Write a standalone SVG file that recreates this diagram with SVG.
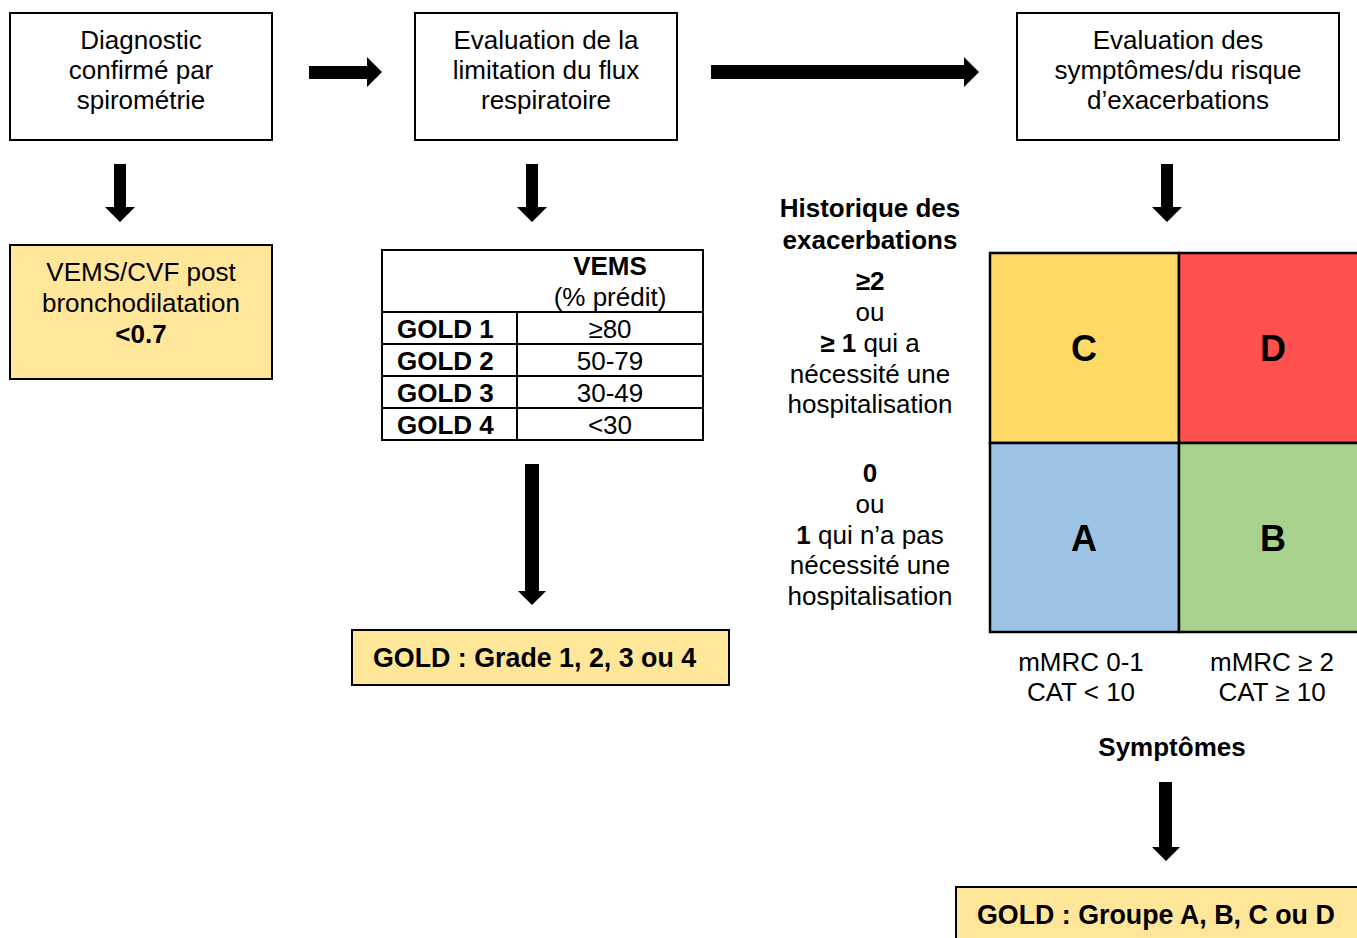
<svg xmlns="http://www.w3.org/2000/svg" width="1357" height="938" viewBox="0 0 1357 938">
<style>
text{font-family:"Liberation Sans",Arial,sans-serif;font-size:26px;fill:#000}
.c{text-anchor:middle}
.b{font-weight:bold}
.w{font-size:26.8px}
.box{fill:#fff;stroke:#000;stroke-width:2}
.ybox{fill:#FFE699;stroke:#000;stroke-width:2}
.cell{stroke:#000;stroke-width:2.5}
.big{font-size:36px;font-weight:bold;text-anchor:middle}
.arr{fill:#000}
</style>
<rect width="1357" height="938" fill="#fff"/>

<g id="connectors">
<polygon class="arr" points="309,66 367,66 367,57 382,72 367,87 367,79 309,79"/>
<polygon class="arr" points="711,65 964,65 964,57 979,72 964,87 964,79 711,79"/>
<polygon class="arr" points="114,164 126,164 126,207 135,207 120,222 105,207 114,207"/>
<polygon class="arr" points="526,164 538,164 538,207 547,207 532,222 517,207 526,207"/>
<polygon class="arr" points="1161,164 1173,164 1173,207 1182,207 1167,222 1152,207 1161,207"/>
<polygon class="arr" points="525,464 539,464 539,591 546,591 532,605 518,591 525,591"/>
<polygon class="arr" points="1159,782 1172,782 1172,847 1180,847 1166,861 1152,847 1159,847"/>
</g>

<g id="n-diagnostic">
<rect class="box" x="10" y="13" width="262" height="127"/>
<text class="c" x="141" y="49">Diagnostic</text>
<text class="c" x="141" y="79">confirmé par</text>
<text class="c" x="141" y="109">spirométrie</text>
</g>

<g id="n-limitation">
<rect class="box" x="415" y="13" width="262" height="127"/>
<text class="c" x="546" y="49">Evaluation de la</text>
<text class="c" x="546" y="79">limitation du flux</text>
<text class="c" x="546" y="109">respiratoire</text>
</g>

<g id="n-symptomes">
<rect class="box" x="1017" y="13" width="322" height="127"/>
<text class="c" x="1178" y="49">Evaluation des</text>
<text class="c" x="1178" y="79">symptômes/du risque</text>
<text class="c" x="1178" y="109">d’exacerbations</text>
</g>

<g id="n-vems-cvf">
<rect class="ybox" x="10" y="245" width="262" height="134"/>
<text class="c" x="141" y="281">VEMS/CVF post</text>
<text class="c" x="141" y="312">bronchodilatation</text>
<text class="c b" x="141" y="343">&lt;0.7</text>
</g>

<g id="n-table">
<rect x="382" y="250" width="321" height="190" fill="#fff" stroke="#000" stroke-width="2"/>
<g stroke="#000" stroke-width="2">
<line x1="382" y1="312" x2="703" y2="312"/>
<line x1="382" y1="344" x2="703" y2="344"/>
<line x1="382" y1="376" x2="703" y2="376"/>
<line x1="382" y1="408" x2="703" y2="408"/>
<line x1="517" y1="312" x2="517" y2="440"/>
</g>
<text class="c b" x="610" y="275">VEMS</text>
<text class="c" x="610" y="306">(% prédit)</text>
<text class="b" x="397" y="338">GOLD 1</text>
<text class="b" x="397" y="370">GOLD 2</text>
<text class="b" x="397" y="402">GOLD 3</text>
<text class="b" x="397" y="434">GOLD 4</text>
<text class="c" x="610" y="338">≥80</text>
<text class="c" x="610" y="370">50-79</text>
<text class="c" x="610" y="402">30-49</text>
<text class="c" x="610" y="434">&lt;30</text>
</g>

<g id="n-grade">
<rect class="ybox" x="352" y="630" width="377" height="55"/>
<text class="b w" x="373" y="667">GOLD : Grade 1, 2, 3 ou 4</text>
</g>

<g id="n-historique">
<text class="c b" x="870" y="217">Historique des</text>
<text class="c b" x="870" y="249">exacerbations</text>
<text class="c b" x="870" y="290">≥2</text>
<text class="c" x="870" y="321">ou</text>
<text class="c" x="870" y="352"><tspan class="b">≥ 1</tspan> qui a</text>
<text class="c" x="870" y="383">nécessité une</text>
<text class="c" x="870" y="413">hospitalisation</text>
<text class="c b" x="870" y="482">0</text>
<text class="c" x="870" y="513">ou</text>
<text class="c" x="870" y="544"><tspan class="b">1</tspan> qui n’a pas</text>
<text class="c" x="870" y="574">nécessité une</text>
<text class="c" x="870" y="605">hospitalisation</text>
</g>

<g id="n-grid">
<rect class="cell" x="990" y="253" width="189" height="190" fill="#FFD966"/>
<rect class="cell" x="1179" y="253" width="190" height="190" fill="#FF5050"/>
<rect class="cell" x="990" y="443" width="189" height="189" fill="#9DC3E6"/>
<rect class="cell" x="1179" y="443" width="190" height="189" fill="#A9D18E"/>
<text class="big" x="1084" y="361">C</text>
<text class="big" x="1273" y="361">D</text>
<text class="big" x="1084" y="551">A</text>
<text class="big" x="1273" y="551">B</text>
</g>

<g id="n-axis">
<text class="c" x="1081" y="671">mMRC 0-1</text>
<text class="c" x="1081" y="701">CAT &lt; 10</text>
<text class="c" x="1272" y="671">mMRC ≥ 2</text>
<text class="c" x="1272" y="701">CAT ≥ 10</text>
<text class="c b" x="1172" y="756">Symptômes</text>
</g>

<g id="n-groupe">
<rect class="ybox" x="956" y="887" width="420" height="70"/>
<text class="b w" x="977" y="924">GOLD : Groupe A, B, C ou D</text>
</g>
</svg>
